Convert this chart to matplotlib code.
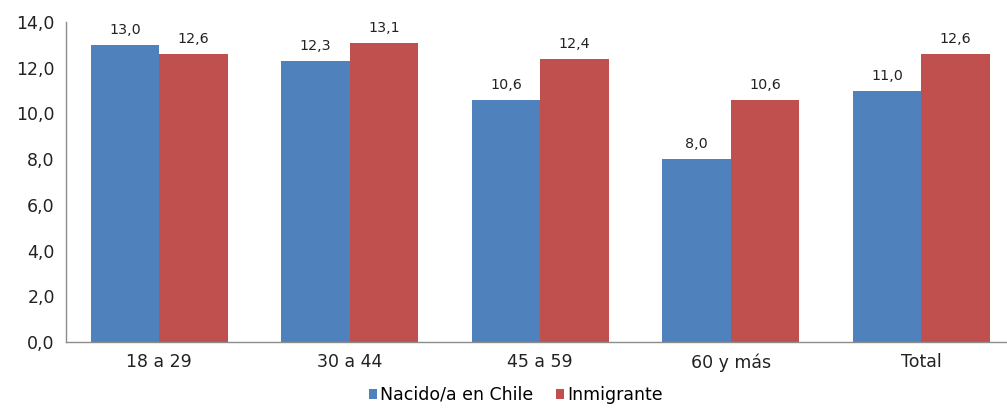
import matplotlib.pyplot as plt
import numpy as np

plt.rcParams['font.family'] = ['DejaVu Sans']

# Values
categories = ['18 a 29', '30 a 44', '45 a 59', '60 y más', 'Total']
nacido = [13.0, 12.3, 10.6, 8.0, 11.0]
inmigrante = [12.6, 13.1, 12.4, 10.6, 12.6]
series_names = ['Nacido/a en Chile', 'Inmigrante']

blue = '#4F81BD'
red = '#C0504D'

fig = plt.figure(figsize=(10.07, 4.08), dpi=100)
ax = fig.add_axes([0.0655, 0.162, 0.9345, 0.784])

x = np.arange(len(categories))
w = 0.36
b1 = ax.bar(x - w / 2, nacido, w, color=blue, label=series_names[0])
b2 = ax.bar(x + w / 2, inmigrante, w, color=red, label=series_names[1])

fmt = lambda v: f'{v:.1f}'.replace('.', ',')
for bars, vals in ((b1, nacido), (b2, inmigrante)):
    for rect, v in zip(bars, vals):
        ax.annotate(fmt(v), (rect.get_x() + rect.get_width() / 2, v),
                    xytext=(0, 5.5), textcoords='offset points',
                    ha='center', va='bottom', fontsize=10.3, color='#222222')

ax.set_ylim(0, 14)
ax.set_xlim(-0.49, 4.45)
ax.set_yticks(np.arange(0, 15, 2))
ax.set_yticklabels([fmt(v) for v in np.arange(0, 15, 2)])
ax.set_xticks(x)
ax.set_xticklabels(categories)
ax.tick_params(axis='both', length=0, labelsize=12.5, colors='#222222')
ax.tick_params(axis='y', pad=8)
ax.tick_params(axis='x', pad=8)

for s in ('top', 'right'):
    ax.spines[s].set_visible(False)
for s in ('left', 'bottom'):
    ax.spines[s].set_color('#8c8c8c')
    ax.spines[s].set_linewidth(1)

fig.legend(loc='lower center', bbox_to_anchor=(0.512, -0.028), ncol=2,
           frameon=False, fontsize=12.5, handlelength=0.5, handleheight=0.5,
           handletextpad=0.15, columnspacing=1.3)

fig.savefig('out.png', dpi=100)
